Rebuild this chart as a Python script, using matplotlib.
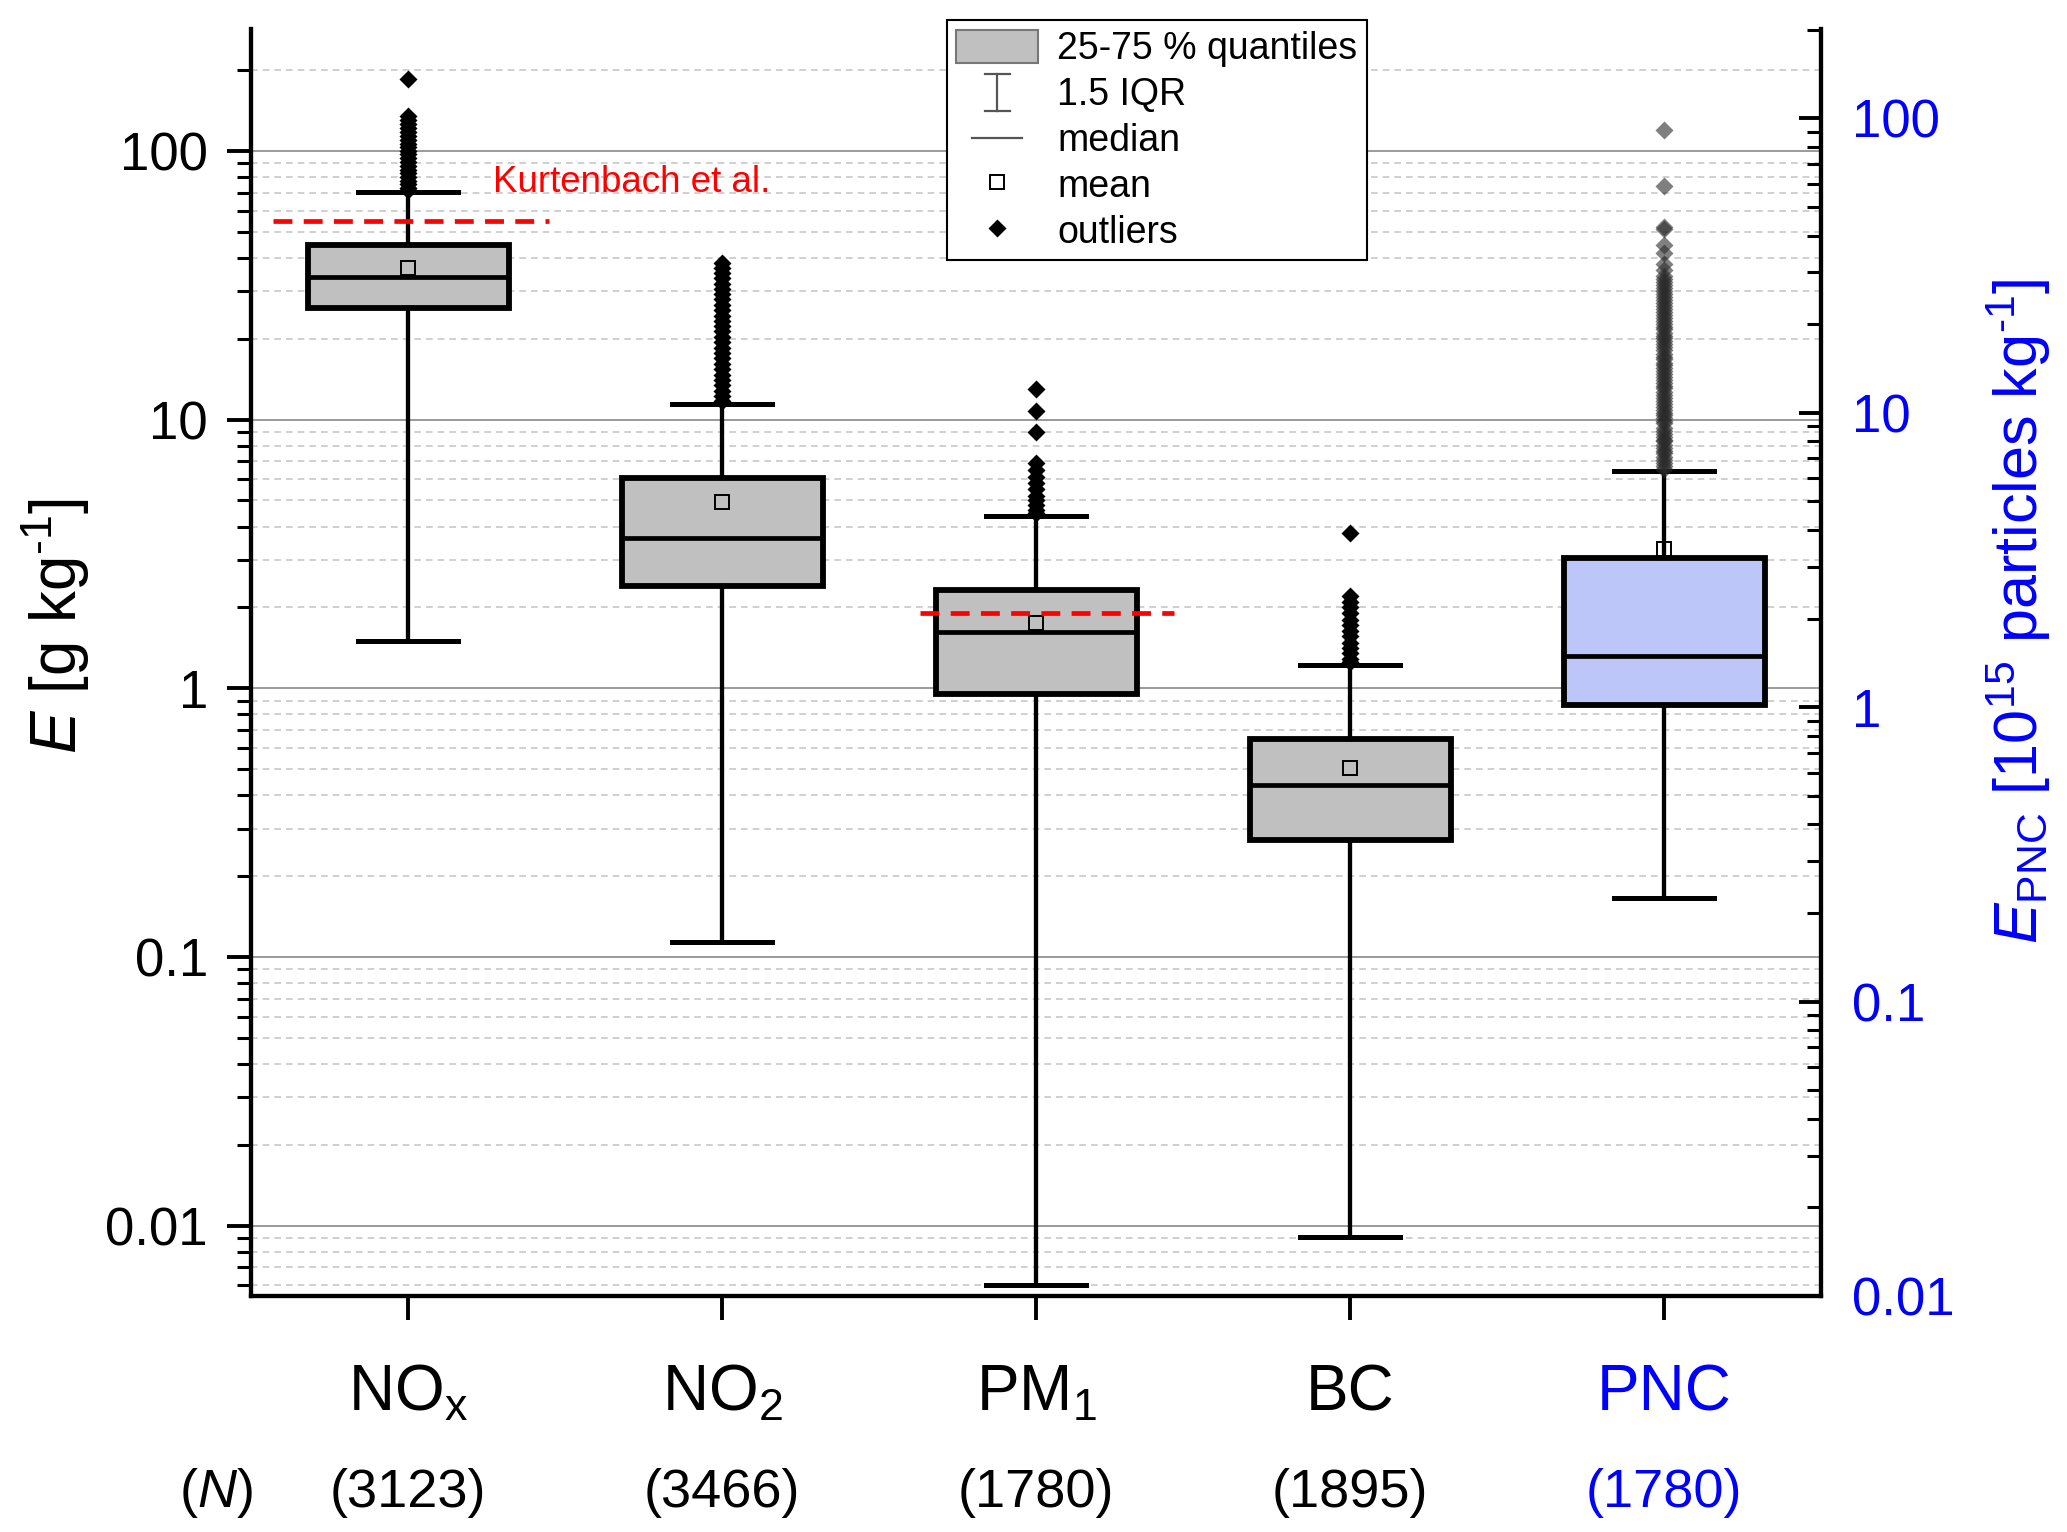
import numpy as np
import matplotlib
matplotlib.use('Agg')
import matplotlib.pyplot as plt
import matplotlib.transforms as mtransforms
from matplotlib.patches import Patch
from matplotlib.lines import Line2D
from matplotlib.legend_handler import HandlerBase
from matplotlib.ticker import LogLocator, FuncFormatter, NullFormatter

plt.rcParams['font.family'] = ['Liberation Sans', 'DejaVu Sans']
plt.rcParams['mathtext.fontset'] = 'custom'
plt.rcParams['mathtext.rm'] = 'Liberation Sans'
plt.rcParams['mathtext.it'] = 'Liberation Sans:italic'
plt.rcParams['mathtext.bf'] = 'Liberation Sans:bold'

# data (PNC is on the right axis, 1e15 particles/kg)
species = [r'NO$_\mathrm{x}$', r'NO$_\mathrm{2}$', r'PM$_\mathrm{1}$', 'BC', 'PNC']
counts = [3123, 3466, 1780, 1895, 1780]
q1 = [26.1, 2.41, 0.95, 0.273, 1.02]
med = [34.0, 3.64, 1.62, 0.437, 1.49]
q3 = [44.5, 6.05, 2.33, 0.646, 3.20]
mean = [36.8, 4.95, 1.75, 0.506, 3.46]
whis_lo = [1.50, 0.1135, 0.0060, 0.0091, 0.225]
whis_hi = [70.3, 11.4, 4.38, 1.22, 6.33]

fl_nox = [185, 135, 130, 126, 122, 118, 114, 110, 106, 103, 100, 97, 94,
          91, 88, 85, 82.5, 80, 77.5, 75, 73, 71.5]
fl_no2 = [11.7, 12.2, 12.8, 13.4, 14.0, 14.7, 15.4, 16.1, 16.9, 17.7, 18.5,
          19.4, 20.3, 21.3, 22.3, 23.3, 24.4, 25.6, 26.8, 28.0, 29.3, 30.7,
          32.1, 33.6, 35.2, 36.8, 38.4]
fl_pm1 = [13.0, 10.8, 9.0, 6.9, 6.5, 6.1, 5.8, 5.5, 5.2, 5.0, 4.8, 4.6, 4.5]
fl_bc = [3.8, 2.2, 2.1, 2.0, 1.9, 1.8, 1.72, 1.64, 1.56, 1.48, 1.41, 1.35,
         1.29, 1.25]
fl_pnc = [91, 59, 42.6, 42.0, 37.2, 34.8, 31.9, 30.5, 29.1, 28.4, 27.8, 27.1,
          26.5, 25.9, 25.3, 24.7, 24.2, 23.6, 23.1, 22.5, 22.0, 21.5, 21.0,
          20.5, 20.1, 19.6, 19.2, 18.7, 18.3, 17.9, 17.5, 17.1, 16.7, 16.3,
          15.9, 15.5, 15.2, 14.8, 14.5, 14.2, 13.9, 13.5, 13.2, 12.9, 12.6,
          12.3, 12.1, 11.8, 11.5, 11.2, 11.0, 10.7, 10.5, 10.2, 10.0, 9.8,
          9.6, 9.4, 9.2, 8.9, 8.7, 8.5, 8.3, 8.1, 8.0, 7.8, 7.6, 7.4, 7.3,
          7.1, 6.9, 6.75, 6.6, 6.45]
fliers = [fl_nox, fl_no2, fl_pm1, fl_bc, fl_pnc]

kurt_nox = 55.0
kurt_pm1 = 1.9

stats = []
for i in range(5):
    stats.append(dict(q1=q1[i], med=med[i], q3=q3[i], mean=mean[i],
                      whislo=whis_lo[i], whishi=whis_hi[i], fliers=fliers[i]))

blue = '#0000ff'
gray_box = '#c0c0c0'
pnc_box = '#bcc6f9'

fig = plt.figure(figsize=(20.67, 15.32), dpi=100)
ax = fig.add_axes([0.1215, 0.154, 0.7595, 0.827])
ax2 = ax.twinx()

common = dict(widths=0.64, capwidths=0.32, patch_artist=True, showmeans=True,
              medianprops=dict(color='k', lw=3.4),
              whiskerprops=dict(color='k', lw=3.1),
              capprops=dict(color='k', lw=3.6),
              meanprops=dict(marker='s', markerfacecolor='none',
                             markeredgecolor='k', markersize=10,
                             markeredgewidth=1.4))

ax.bxp(stats[:4], positions=[1, 2, 3, 4],
       boxprops=dict(facecolor=gray_box, edgecolor='k', lw=4.2),
       flierprops=dict(marker='D', markerfacecolor='k', markeredgecolor='none',
                       markersize=9),
       **common)
ax2.bxp(stats[4:], positions=[5],
        boxprops=dict(facecolor=pnc_box, edgecolor='k', lw=4.2),
        flierprops=dict(marker='D', markerfacecolor='#2a2a2a',
                        markeredgecolor='none', markersize=9, alpha=0.6),
        **common)

# Kurtenbach et al. reference values
ax.plot([0.57, 1.45], [kurt_nox, kurt_nox], color='red', lw=3.4,
        ls=(0, (4, 2.4)), zorder=5)
ax.plot([2.63, 3.44], [kurt_pm1, kurt_pm1], color='red', lw=3.4,
        ls=(0, (4, 2.4)), zorder=5)
ax.text(1.27, 76, 'Kurtenbach et al.', color='red', fontsize=26.5,
        va='center', ha='left')

ax.set_xlim(0.5, 5.5)
ax.set_yscale('log')
ax.set_ylim(0.00547, 284)
ax2.set_yscale('log')
ax2.set_ylim(0.01, 201)

fmt = FuncFormatter(lambda v, _: f'{v:g}')
for a in (ax, ax2):
    a.yaxis.set_major_locator(LogLocator(base=10, numticks=20))
    a.yaxis.set_minor_locator(LogLocator(base=10, subs=np.arange(2, 10), numticks=20))
    a.yaxis.set_major_formatter(fmt)
    a.yaxis.set_minor_formatter(NullFormatter())

ax.grid(True, which='major', axis='y', color='#9a9a9a', lw=1.4, ls='-')
ax.grid(True, which='minor', axis='y', color='#c8c8c8', lw=1.2, ls=(0, (4, 3)))
ax.set_axisbelow(True)

ax.set_xticks([1, 2, 3, 4, 5])
ax.set_xticklabels([])
ax.tick_params(axis='x', direction='out', length=17, width=2.8)
ax.tick_params(axis='y', which='major', direction='out', length=17, width=2.8,
               labelsize=38, pad=14)
ax.tick_params(axis='y', which='minor', direction='out', length=10, width=2.2)
ax2.tick_params(axis='y', which='major', direction='in', length=16, width=2.8,
                labelsize=38, pad=22, labelcolor=blue)
ax2.tick_params(axis='y', which='minor', direction='in', length=10, width=2.2)

for a in (ax, ax2):
    a.spines['top'].set_visible(False)
    for s in ('left', 'right', 'bottom'):
        a.spines[s].set_linewidth(3.0)

# category labels and counts
trans = mtransforms.blended_transform_factory(ax.transData, fig.transFigure)
for i in range(5):
    col = blue if i == 4 else 'k'
    fig.text(i + 1, 0.079, species[i], transform=trans, ha='center',
             va='baseline', fontsize=46, color=col)
    fig.text(i + 1, 0.016, f'({counts[i]})', transform=trans, ha='center',
             va='baseline', fontsize=39, color=col)
fig.text(216 / 2067, 0.016, r'($N$)', ha='center', va='baseline', fontsize=39)

fig.text(56 / 2067, 1 - 626 / 1532, '$E$ [g kg$^{\u20101}$]', rotation=90,
         ha='center', va='center', fontsize=46)
fig.text(2019 / 2067, 1 - 611 / 1532,
         '$E_\\mathrm{PNC}$ [10$^{15}$ particles kg$^{\u20101}$]', rotation=90,
         ha='center', va='center', fontsize=44, color=blue)


class HandlerIQR(HandlerBase):
    def create_artists(self, legend, orig_handle, xdescent, ydescent,
                       width, height, fontsize, trans):
        cx = 0.5 * width - xdescent
        y0 = -ydescent - 0.05 * height
        y1 = height - ydescent + 0.05 * height
        cw = 0.15 * width
        kw = dict(color='#555555', lw=1.6, transform=trans)
        return [Line2D([cx, cx], [y0, y1], **kw),
                Line2D([cx - cw, cx + cw], [y0, y0], **kw),
                Line2D([cx - cw, cx + cw], [y1, y1], **kw)]


class HandlerShort(HandlerBase):
    def create_artists(self, legend, orig_handle, xdescent, ydescent,
                       width, height, fontsize, trans):
        cx = 0.5 * width - xdescent
        cy = 0.5 * height - ydescent
        hw = 0.3 * width
        return [Line2D([cx - hw, cx + hw], [cy, cy], color='#555555', lw=1.6,
                       transform=trans)]


h_box = Patch(facecolor=gray_box, edgecolor='#777777', lw=1.5)
h_iqr = Line2D([], [])
h_med = Line2D([], [])
h_mean = Line2D([], [], ls='none', marker='s', markerfacecolor='white',
                markeredgecolor='k', markersize=10, markeredgewidth=1.4)
h_out = Line2D([], [], ls='none', marker='D', markerfacecolor='k',
               markeredgecolor='none', markersize=9)
leg = ax2.legend([h_box, h_iqr, h_med, h_mean, h_out],
                 ['25-75 % quantiles', '1.5 IQR', 'median', 'mean', 'outliers'],
                 handler_map={h_iqr: HandlerIQR(), h_med: HandlerShort()},
                 loc='upper left', bbox_to_anchor=(0.443, 1.007),
                 borderaxespad=0, fontsize=27, frameon=True, fancybox=False,
                 edgecolor='k', framealpha=1, handlelength=2.2,
                 handleheight=1.0, labelspacing=0.22, borderpad=0.25,
                 handletextpad=0.5)
leg.get_frame().set_linewidth(1.5)

fig.savefig('out.png', dpi=100)
